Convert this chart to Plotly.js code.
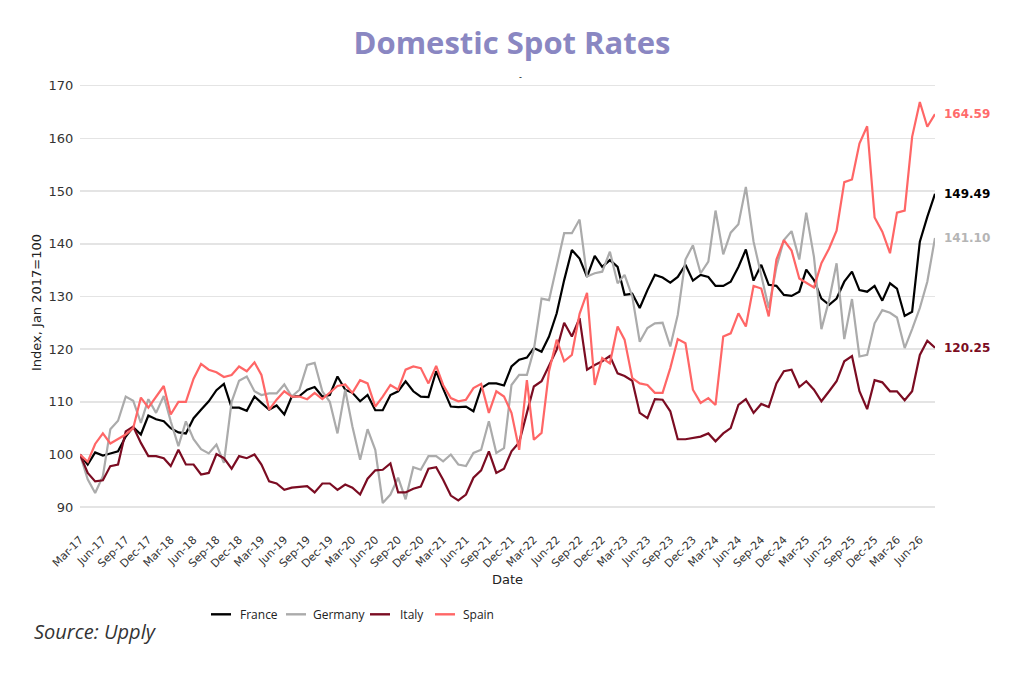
<!DOCTYPE html>
<html>
<head>
<meta charset="utf-8">
<script src="https://cdn.plot.ly/plotly-3.0.1.min.js"></script>
<style>
  html, body { margin: 0; padding: 0; background: #ffffff; }
  #chart { width: 1024px; height: 677px; }
</style>
</head>
<body>
<div id="chart"></div>
<script>
// ---------- DATA ----------
const startYear = 2017;
const startMonth = 3; // March 2017 = 100 baseline

const france = [
  100.0, 98.1, 100.4, 99.8, 100.2, 100.6, 103.4, 105.2, 103.8, 107.4,
  106.7, 106.3, 105.0, 104.2, 104.0, 106.9, 108.5, 110.1, 112.2, 113.4,
  108.9, 108.9, 108.3, 111.0, 109.8, 108.5, 109.3, 107.6, 111.0, 111.1,
  112.3, 112.8, 111.0, 111.3, 114.8, 112.3, 111.7, 110.1, 111.3, 108.4,
  108.4, 111.3, 112.0, 113.9, 112.0, 111.0, 110.9, 115.8, 112.5, 109.1,
  109.0, 109.1, 108.2, 112.6, 113.5, 113.5, 113.1, 116.7, 118.0, 118.4,
  120.2, 119.5, 122.4, 126.8, 133.1, 138.8, 137.2, 133.7, 137.7, 135.6,
  136.9, 135.6, 130.3, 130.5, 127.8, 131.2, 134.1, 133.6, 132.6, 133.7,
  136.0, 133.0, 134.1, 133.7, 132.0, 132.0, 132.8, 135.6, 138.9, 133.0,
  136.0, 132.2, 132.0, 130.3, 130.1, 130.9, 135.1, 133.1, 129.6, 128.4,
  129.6, 132.8, 134.7, 131.2, 130.9, 132.0, 129.2, 132.5, 131.5, 126.3,
  127.1, 140.4, 145.1, 149.49
];

const germany = [
  100.0, 95.3, 92.7, 95.9, 104.8, 106.4, 111.0, 110.2, 106.0, 110.5,
  107.9, 111.1, 106.3, 101.6, 106.3, 102.9, 101.0, 100.2, 101.9, 98.4,
  110.0, 114.0, 114.8, 112.0, 111.3, 111.6, 111.6, 113.3, 111.0, 112.3,
  117.0, 117.4, 112.0, 110.0, 104.0, 112.3, 105.3, 99.0, 104.8, 100.9,
  90.8, 92.4, 95.6, 91.5, 97.6, 97.1, 99.7, 99.7, 98.7, 100.0,
  98.1, 97.8, 100.3, 100.9, 106.3, 100.3, 101.2, 113.2, 115.1, 115.1,
  119.9, 129.6, 129.3, 135.6, 142.0, 142.0, 144.6, 133.8, 134.4, 134.7,
  138.5, 132.5, 134.1, 130.0, 121.4, 124.0, 124.9, 125.0, 120.5, 126.5,
  137.0, 139.7, 134.4, 136.6, 146.3, 138.0, 142.1, 143.7, 150.8, 140.4,
  133.8, 127.8, 135.6, 140.7, 142.4, 137.0, 145.9, 137.5, 123.8, 129.3,
  136.3, 121.9, 129.5, 118.6, 118.9, 124.9, 127.4, 126.9, 126.0, 120.2,
  123.8, 127.8, 132.8, 141.10
];

const italy = [
  100.0, 96.5, 94.9, 95.1, 97.8, 98.1, 104.4, 105.3, 102.2, 99.7,
  99.7, 99.3, 97.8, 100.9, 98.1, 98.1, 96.2, 96.5, 100.1, 99.3,
  97.3, 99.7, 99.3, 100.0, 98.1, 94.9, 94.5, 93.3, 93.7, 93.9,
  94.0, 92.8, 94.5, 94.5, 93.3, 94.3, 93.7, 92.4, 95.4, 97.0,
  97.1, 98.3, 92.8, 92.8, 93.5, 93.9, 97.3, 97.6, 95.2, 92.2,
  91.3, 92.4, 95.6, 97.0, 100.6, 96.5, 97.3, 100.6, 102.3, 107.9,
  112.9, 113.9, 117.0, 119.9, 125.0, 122.4, 125.9, 116.1, 117.0, 117.7,
  118.7, 115.4, 114.9, 114.0, 107.9, 106.9, 110.5, 110.4, 108.2, 102.9,
  102.9, 103.1, 103.4, 104.0, 102.5, 104.0, 105.0, 109.4, 110.5, 107.9,
  109.6, 109.0, 113.5, 115.8, 116.1, 112.8, 113.9, 112.3, 110.1, 112.0,
  113.9, 117.7, 118.7, 112.0, 108.6, 114.1, 113.7, 112.0, 112.0, 110.3,
  112.0, 118.9, 121.6, 120.25
];

const spain = [
  100.0, 98.6, 102.0, 104.0, 102.1, 103.0, 103.8, 105.0, 110.8, 108.9,
  111.0, 113.0, 107.6, 110.0, 110.0, 114.4, 117.2, 116.1, 115.6, 114.7,
  115.1, 116.7, 115.8, 117.5, 115.1, 108.5, 110.4, 112.0, 111.0, 111.0,
  110.5, 111.7, 110.5, 111.8, 113.0, 113.3, 111.7, 114.1, 113.5, 109.1,
  111.0, 113.2, 112.3, 116.1, 116.7, 116.4, 113.5, 116.8, 113.2, 110.7,
  110.1, 110.4, 112.6, 113.4, 107.9, 112.0, 111.0, 107.9, 100.9, 114.1,
  102.8, 104.1, 115.8, 121.8, 117.7, 118.9, 126.7, 130.7, 113.2, 118.3,
  117.3, 124.3, 121.8, 114.5, 113.5, 113.2, 111.7, 111.7, 116.4, 121.9,
  121.1, 112.3, 109.8, 110.7, 109.4, 122.4, 123.0, 126.8, 124.3, 132.0,
  131.5, 126.2, 137.0, 140.7, 138.7, 133.4, 132.6, 131.7, 136.3, 139.1,
  142.5, 151.7, 152.2, 159.0, 162.3, 145.0, 142.3, 138.2, 145.9, 146.3,
  160.3, 166.9, 162.2, 164.59
];

const seriesNames = ['France', 'Germany', 'Italy', 'Spain'];
const seriesValues = [france, germany, italy, spain];
const yTickValues = [90, 100, 110, 120, 130, 140, 150, 160, 170];

// ---------- STYLE ----------
const lineColors = ['#000000', '#ababab', '#7b0c22', '#ff6666'];
const labelColors = ['#000000', '#b5b5b5', '#7b0c22', '#ff6b6b'];
// legend item pixel positions (swatch start, text start)
const legendSwatchX = [211, 286, 370, 435];
const legendTextX = [238, 311, 398, 461];
const legendY = 615;

// monthly x positions (categories)
function monthDates(n) {
  const out = [];
  for (let k = 0; k < n; k++) {
    const m0 = startMonth - 1 + k;
    const y = startYear + Math.floor(m0 / 12);
    const m = (m0 % 12) + 1;
    out.push(y + '-' + String(m).padStart(2, '0') + '-01');
  }
  return out;
}
const months = monthDates(france.length);

// ---------- LAYOUT GEOMETRY ----------
const W = 1024, H = 677;
const M = { l: 80, r: 89, t: 81.6, b: 153.5 };
const plotW = W - M.l - M.r, plotH = H - M.t - M.b;
const px = x => (x - M.l) / plotW;
const py = y => (H - M.b - y) / plotH;

const axisFont = 'DejaVu Sans, Verdana, sans-serif';

const traces = seriesNames.map((name, i) => ({
  type: 'scatter',
  mode: 'lines',
  name: name,
  x: months,
  y: seriesValues[i],
  line: { color: lineColors[i], width: 2.2 },
  hoverinfo: 'x+y+name'
}));

const endLabels = seriesNames.map((name, i) => {
  const vals = seriesValues[i];
  return {
    xref: 'x', yref: 'y',
    x: months[months.length - 1],
    y: vals[vals.length - 1],
    text: '<b>' + vals[vals.length - 1].toFixed(2) + '</b>',
    showarrow: false,
    xanchor: 'left', yanchor: 'middle',
    xshift: 7,
    font: { family: axisFont, size: 12, color: labelColors[i] }
  };
});

const legendShapes = seriesNames.map((name, i) => ({
  type: 'line', xref: 'paper', yref: 'paper',
  x0: px(legendSwatchX[i]), x1: px(legendSwatchX[i] + 20),
  y0: py(legendY), y1: py(legendY),
  line: { color: lineColors[i], width: 2.4 }
}));

const legendTexts = seriesNames.map((name, i) => ({
  xref: 'paper', yref: 'paper',
  x: px(legendTextX[i]), y: py(legendY),
  xanchor: 'left', yanchor: 'middle',
  text: name, showarrow: false,
  font: { family: 'Open Sans, sans-serif', size: 12, color: '#222222' }
}));

const layout = {
  width: W, height: H,
  margin: M,
  paper_bgcolor: '#ffffff',
  plot_bgcolor: '#ffffff',
  showlegend: false,
  title: {
    text: 'Domestic Spot Rates',
    xref: 'container', x: 0.5, xanchor: 'center',
    yref: 'container', y: 1 - 43 / H, yanchor: 'middle',
    font: { family: 'Open Sans, sans-serif', size: 31, color: '#8a87c2', weight: 700 }
  },
  xaxis: {
    type: 'date',
    range: [months[0], months[months.length - 1]],
    showgrid: false, zeroline: false, showline: false,
    ticks: 'outside', ticklen: 5, tickcolor: 'rgba(0,0,0,0)',
    tick0: months[0], dtick: 'M3',
    tickformat: '%b-%y',
    tickangle: -45,
    tickfont: { family: axisFont, size: 11, color: '#333333' },
    title: { text: 'Date', font: { family: axisFont, size: 13, color: '#222222' }, standoff: 5 },
    automargin: false,
    fixedrange: true
  },
  yaxis: {
    range: [87.0, 170.7],
    tickvals: yTickValues,
    ticktext: yTickValues.map(String),
    showgrid: true, gridcolor: '#e4e4e4', gridwidth: 1.5,
    zeroline: false, showline: false,
    ticks: 'outside', ticklen: 3, tickcolor: 'rgba(0,0,0,0)',
    tickfont: { family: axisFont, size: 13, color: '#333333' },
    title: { text: 'Index, Jan 2017=100', font: { family: axisFont, size: 13, color: '#222222' }, standoff: 4 },
    automargin: false,
    fixedrange: true
  },
  shapes: legendShapes,
  annotations: endLabels.concat(legendTexts, [
    {
      xref: 'paper', yref: 'paper',
      x: px(32), y: py(632),
      xanchor: 'left', yanchor: 'middle',
      text: '<i>Source: Upply</i>',
      showarrow: false,
      font: { family: 'Open Sans, sans-serif', size: 20, color: '#333333' }
    },
    {
      xref: 'paper', yref: 'paper',
      x: px(520), y: py(77),
      xanchor: 'center', yanchor: 'middle',
      text: '-',
      showarrow: false,
      font: { family: axisFont, size: 8, color: '#000000' }
    }
  ])
};

Plotly.newPlot('chart', traces, layout, { displayModeBar: false, staticPlot: true });
</script>
</body>
</html>
